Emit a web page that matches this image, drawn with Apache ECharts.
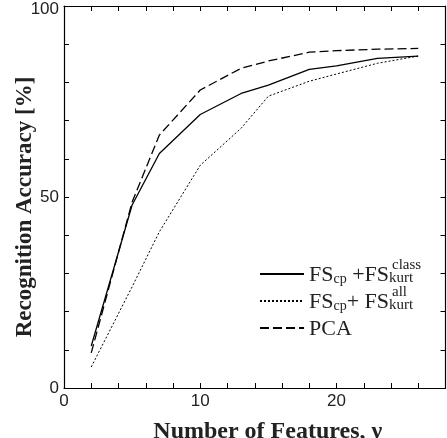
<!DOCTYPE html>
<html>
<head>
<meta charset="utf-8">
<script src="https://cdn.jsdelivr.net/npm/echarts@6/dist/echarts.min.js"></script>
<style>
  html, body { margin: 0; padding: 0; background: #fff; }
  #myChart { width: 447px; height: 438px; }
</style>
</head>
<body>
<div id="myChart"></div>
<script>
// Number of features on the x axis
var features = [2, 5, 7, 10, 13, 15, 18, 20, 23, 26];

// Recognition accuracy [%] for each method
var classAcc = [11.0, 47.9, 61.4, 71.6, 77.1, 79.3, 83.4, 84.3, 86.3, 86.9];
var allAcc = [5.5, 26.5, 40.9, 58.3, 68.0, 76.4, 80.3, 82.2, 85.0, 86.9];
var pcaAcc = [9.2, 48.7, 66.2, 78.0, 83.7, 85.6, 87.9, 88.3, 88.7, 88.9];

// Tick labels that are shown
var xLabels = [0, 10, 20];
var yLabels = [0, 50, 100];

function pairs(xs, ys) {
  return xs.map(function (x, i) { return [x, ys[i]]; });
}

var serif = 'Liberation Serif';
var sans = 'Liberation Sans';

// legend text, superscripts are added as graphic text below
var legendText = {
  'class': '{a|FS}{s|cp}{a| +FS}{k|kurt}',
  'all': '{a|FS}{s|cp}{a|+ FS}{k|kurt}',
  'PCA': '{a|PCA}'
};

var myChart = echarts.init(document.getElementById('myChart'));

var tickStyle = { show: true, inside: true, length: 5, lineStyle: { color: '#000', width: 1 } };
var frameLine = { show: true, onZero: false, lineStyle: { color: '#000', width: 1.2 } };

var option = {
  animation: false,
  backgroundColor: '#fff',
  grid: {
    left: 64, right: 1.5, top: 6, bottom: 50,
    outerBounds: { left: -100, top: -100, right: -100, bottom: -100 }
  },
  xAxis: [{
    type: 'value',
    min: 0,
    max: 28,
    interval: 2,
    name: 'Number of Features, \u03bd',
    nameLocation: 'middle',
    nameGap: 32,
    nameTextStyle: { fontFamily: serif, fontWeight: 'bold', fontSize: 24, color: '#222', padding: [0, 0, 0, 26] },
    axisLine: frameLine,
    axisTick: tickStyle,
    splitLine: { show: false },
    axisLabel: {
      margin: 5,
      fontFamily: sans, fontSize: 17, color: '#222',
      formatter: function (v) { return xLabels.indexOf(v) >= 0 ? String(v) : ''; }
    }
  }, {
    type: 'value', position: 'top', min: 0, max: 28, interval: 2,
    axisLine: frameLine, axisTick: tickStyle, axisLabel: { show: false }, splitLine: { show: false }
  }],
  yAxis: [{
    type: 'value',
    min: 0,
    max: 100,
    interval: 10,
    axisLine: frameLine,
    axisTick: tickStyle,
    splitLine: { show: false },
    axisLabel: {
      margin: 5,
      fontFamily: sans, fontSize: 17, color: '#222',
      formatter: function (v) {
        if (yLabels.indexOf(v) < 0) return '';
        return v === 100 ? '{top|' + v + '}' : String(v);
      },
      rich: {
        top: { fontFamily: sans, fontSize: 17, color: '#222', padding: [6, 0, 0, 0] }
      }
    }
  }, {
    type: 'value', position: 'right', min: 0, max: 100, interval: 10,
    axisLine: frameLine, axisTick: tickStyle, axisLabel: { show: false }, splitLine: { show: false }
  }],
  legend: {
    orient: 'vertical',
    left: 254,
    top: 259,
    itemWidth: 44,
    itemHeight: 14,
    itemGap: 5,
    data: ['class', 'all', 'PCA'],
    itemStyle: { color: 'rgba(0,0,0,0)', borderColor: 'rgba(0,0,0,0)', borderWidth: 0 },
    formatter: function (name) { return legendText[name]; },
    textStyle: {
      color: '#222',
      rich: {
        a: { fontFamily: serif, fontSize: 22, lineHeight: 24, verticalAlign: 'bottom', color: '#222' },
        s: { fontFamily: serif, fontSize: 14, lineHeight: 24, verticalAlign: 'bottom', color: '#222' },
        k: { fontFamily: serif, fontSize: 15, lineHeight: 24, verticalAlign: 'bottom', color: '#222' }
      }
    }
  },
  graphic: [
    // y axis title
    {
      type: 'text', x: 25, y: 207, rotation: Math.PI / 2,
      style: { text: 'Recognition Accuracy [%]', font: 'bold 23px "Liberation Serif"', fill: '#222', align: 'center', verticalAlign: 'middle' }
    },
    // superscripts of the legend
    { type: 'text', left: 392, top: 258, style: { text: 'class', font: '15px "Liberation Serif"', fill: '#222' } },
    { type: 'text', left: 392, top: 285, style: { text: 'all', font: '15px "Liberation Serif"', fill: '#222' } }
  ],
  series: [{
    name: 'class',
    type: 'line',
    symbol: 'none',
    data: pairs(features, classAcc),
    lineStyle: { color: '#000', width: 1.3, type: 'solid' },
    itemStyle: { color: '#000' }
  }, {
    name: 'all',
    type: 'line',
    symbol: 'none',
    data: pairs(features, allAcc),
    lineStyle: { color: '#000', width: 1, type: [2, 2] },
    itemStyle: { color: '#000' }
  }, {
    name: 'PCA',
    type: 'line',
    symbol: 'none',
    data: pairs(features, pcaAcc),
    lineStyle: { color: '#000', width: 1.3, type: [9, 4] },
    itemStyle: { color: '#000' }
  }]
};

myChart.setOption(option);
</script>
</body>
</html>
